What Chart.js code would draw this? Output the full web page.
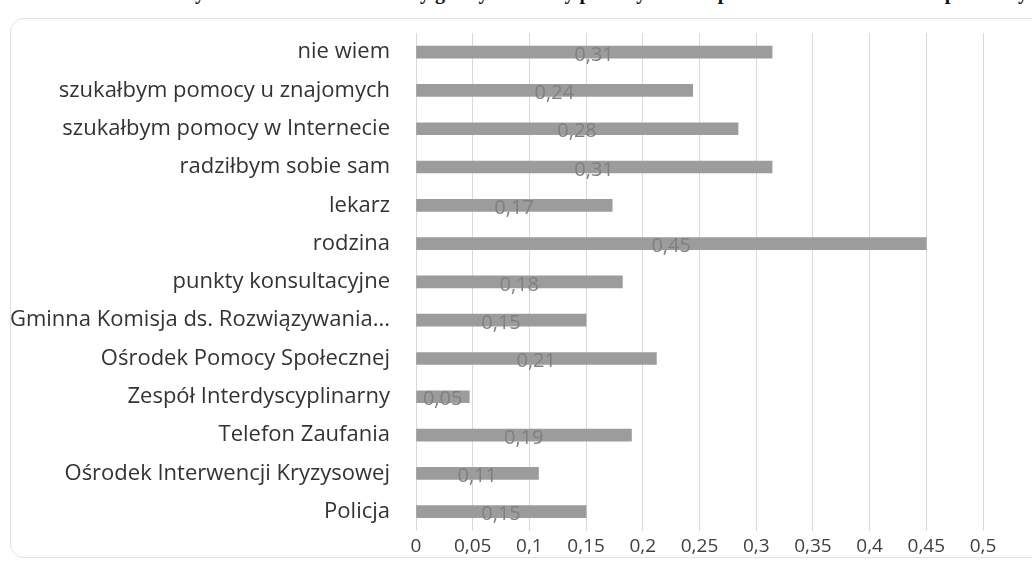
<!DOCTYPE html>
<html>
<head>
<meta charset="utf-8">
<script src="https://cdn.jsdelivr.net/npm/chart.js@4"></script>
<style>
  html, body { margin: 0; padding: 0; background: #fff; }
  #wrap { position: relative; width: 1032px; height: 562px; overflow: hidden; }
  #title {
    position: absolute; top: -19px; right: 4px; white-space: nowrap;
    font: bold 20px "Liberation Serif", serif; color: #111;
  }
  #frame {
    position: absolute; left: 10px; top: 18px; width: 1040px; height: 538px;
    border: 1.5px solid #e2e2e2; border-radius: 14px;
  }
  #c { position: absolute; left: 0; top: 0; }
</style>
</head>
<body>
<div id="wrap">
  <div id="title">Wykres 20. Gdzie mieszkańcy gminy szukaliby pomocy w razie problemu uzależnień lub/i przemocy</div>
  <div id="frame"></div>
  <canvas id="c" width="1032" height="562"></canvas>
</div>
<script>
var categories = [
    'nie wiem',
    'szukałbym pomocy u znajomych',
    'szukałbym pomocy w Internecie',
    'radziłbym sobie sam',
    'lekarz',
    'rodzina',
    'punkty konsultacyjne',
    'Gminna Komisja ds. Rozwiązywania...',
    'Ośrodek Pomocy Społecznej',
    'Zespół Interdyscyplinarny',
    'Telefon Zaufania',
    'Ośrodek Interwencji Kryzysowej',
    'Policja'
];
// shares; labels show them rounded to two places
var values = [0.314, 0.244, 0.284, 0.314, 0.173, 0.45, 0.182, 0.15, 0.212, 0.047, 0.19, 0.108, 0.15];
var xTicks = [0, 0.05, 0.1, 0.15, 0.2, 0.25, 0.3, 0.35, 0.4, 0.45, 0.5];

function comma(v) {
    return String(v).replace('.', ',');
}

// value labels in the middle of each bar, like Excel's "center" position
var centerLabels = {
    id: 'centerLabels',
    afterDatasetsDraw: function (chart) {
        var ctx = chart.ctx;
        var meta = chart.getDatasetMeta(0);
        var xs = chart.scales.x;
        ctx.save();
        ctx.font = '20px "Open Sans", sans-serif';
        ctx.fillStyle = '#808080';
        ctx.textAlign = 'center';
        ctx.textBaseline = 'middle';
        meta.data.forEach(function (bar, i) {
            var mid = xs.getPixelForValue(values[i] / 2);
            ctx.fillText(comma(+values[i].toFixed(2)), mid, bar.y + 3);
        });
        ctx.restore();
    }
};

var ctx = document.getElementById('c').getContext('2d');
var chart = new Chart(ctx, {
    type: 'bar',
    data: {
        labels: categories,
        datasets: [{
            data: values,
            backgroundColor: '#9c9c9c',
            barThickness: 12
        }]
    },
    options: {
        indexAxis: 'y',
        responsive: false,
        animation: false,
        layout: { padding: { top: 33, right: 49, bottom: 3, left: 0 } },
        plugins: {
            legend: { display: false },
            tooltip: { enabled: false }
        },
        scales: {
            x: {
                min: 0,
                max: 0.5,
                afterBuildTicks: function (s) {
                    s.ticks = xTicks.map(function (v) { return { value: v }; });
                },
                ticks: {
                    padding: 4,
                    color: '#404040',
                    font: { family: '"Open Sans", sans-serif', size: 19 },
                    callback: function (v) { return comma(+v.toFixed(2)); }
                },
                grid: { color: '#d9d9d9', drawTicks: false },
                border: { display: false },
                afterFit: function (s) { s.height = 28; }
            },
            y: {
                ticks: {
                    padding: 18,
                    color: '#333333',
                    font: { family: '"Open Sans", sans-serif', size: 22 }
                },
                grid: { display: false },
                border: { display: false },
                afterFit: function (s) { s.width = 416; }
            }
        }
    },
    plugins: [centerLabels]
});
</script>
</body>
</html>
